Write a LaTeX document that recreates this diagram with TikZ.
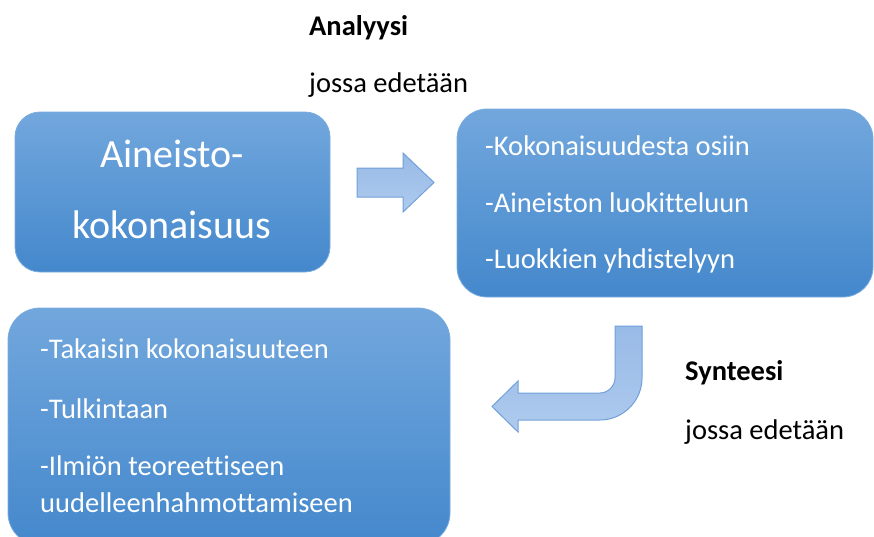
\documentclass[tikz,border=0pt]{standalone}
\usepackage{fontspec}
\setmainfont{Carlito}[Ligatures=NoCommon]
\usetikzlibrary{calc}

\definecolor{boxtop}{RGB}{114,167,221}
\definecolor{boxbot}{RGB}{68,136,204}
\definecolor{boxline}{RGB}{122,172,224}
\definecolor{arrtop}{RGB}{152,186,230}
\definecolor{arrbot}{RGB}{174,202,238}
\definecolor{arrline}{RGB}{112,160,218}

\tikzset{
  blockbox/.style={rectangle, rounded corners=#1, top color=boxtop, bottom color=boxbot,
    draw=boxline, line width=.8pt, inner sep=0pt},
  blockarrow/.style={top color=arrtop, bottom color=arrbot, draw=arrline, line width=1pt},
  boxtext/.style={anchor=base west, text=white, inner sep=0pt, font=\fontsize{28.5}{34}\selectfont},
  bigtext/.style={anchor=base, text=white, inner sep=0pt, font=\fontsize{40}{48}\selectfont},
  sidetext/.style={anchor=base west, inner sep=0pt, font=\fontsize{28.5}{34}\selectfont},
}

\begin{document}
\begin{tikzpicture}[x=1pt,y=-1pt]
\useasboundingbox (0,0) rectangle (874,536);

% laatikot
\node[blockbox=25pt, minimum width=315pt, minimum height=160pt] (aineisto) at (172.5,192) {};
\node[blockbox=30pt, minimum width=416pt, minimum height=188pt] (analyysi) at (665,203) {};
\node[blockbox=32pt, minimum width=442pt, minimum height=237pt] (synteesi) at (229,426.5) {};

\node[bigtext] (ain1) at (172,167) {Aineisto-};
\node[bigtext] (ain2) at (172,238) {kokonaisuus};

\foreach \txt/\y [count=\i] in {-Kokonaisuudesta osiin/155, -Aineiston luokitteluun/212, -Luokkien yhdistelyyn/268}
  \node[boxtext] (an\i) at (485,\y) {\txt};

\foreach \txt/\y [count=\i] in {-Takaisin kokonaisuuteen/358, -Tulkintaan/418, -Ilmiön teoreettiseen/475, uudelleenhahmottamiseen/512}
  \node[boxtext] (sy\i) at (40,\y) {\txt};

% otsikot
\node[sidetext, font=\fontsize{28.5}{34}\selectfont\bfseries] (analyysiotsikko) at (309,35) {Analyysi};
\node[sidetext] (analyysijossa) at (309,92) {jossa edetään};
\node[sidetext, font=\fontsize{28.5}{34}\selectfont\bfseries] (synteesiotsikko) at (685,380) {Synteesi};
\node[sidetext] (synteesijossa) at (685,439) {jossa edetään};

% nuolet
\draw[blockarrow] (357,168) -- (403,168) -- (403,153) -- (434,182.5) -- (403,212) -- (403,197) -- (357,197) -- cycle;
\draw[blockarrow] (615,326) -- (642,326) -- (642,378)
  .. controls (642,401) and (623,420) .. (600,420) -- (518,420) -- (518,432) -- (492,406.5)
  -- (518,381) -- (518,393) -- (600,393) .. controls (608,393) and (615,386) .. (615,378) -- cycle;
\end{tikzpicture}
\end{document}
